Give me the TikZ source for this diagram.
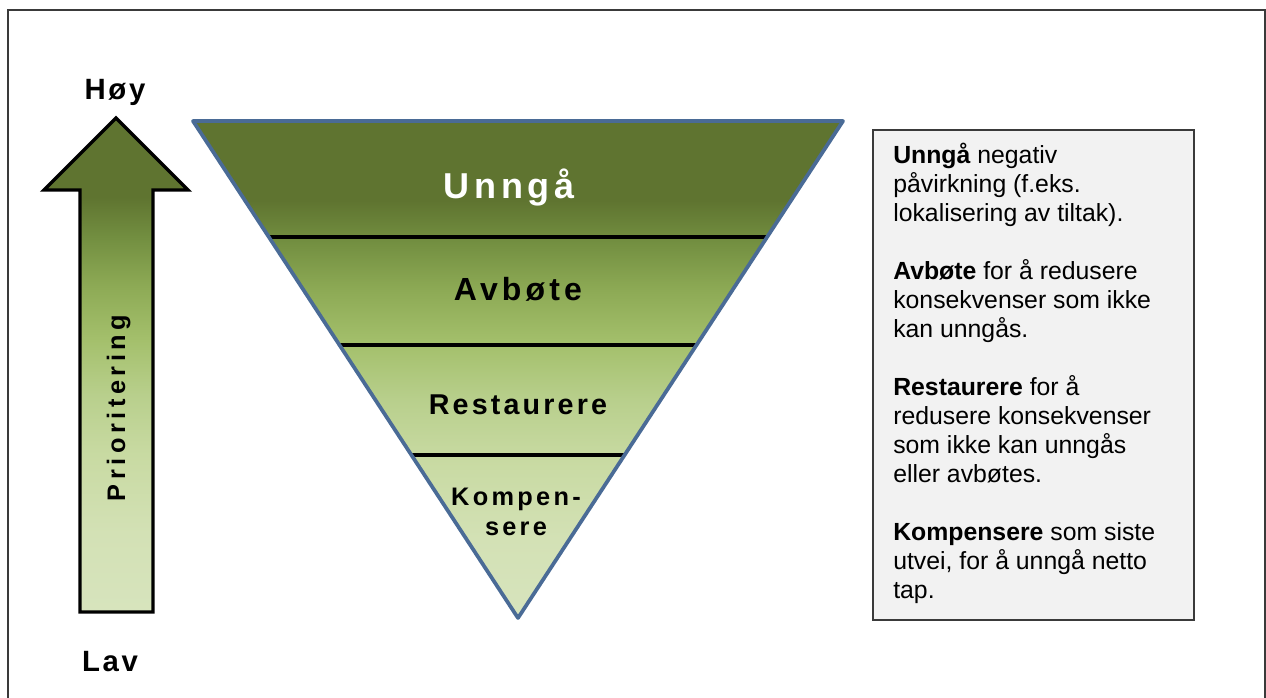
\documentclass[tikz,border=0pt]{standalone}
\usepackage{fontspec}
\setmainfont{Liberation Sans}
\usepackage{xcolor}
\usepackage{tikz}

\definecolor{oliveA}{HTML}{D7E4BD}
\definecolor{oliveB}{HTML}{D3E1B5}
\definecolor{oliveC}{HTML}{C8DAA2}
\definecolor{oliveD}{HTML}{B8CF8C}
\definecolor{oliveE}{HTML}{A4C06C}
\definecolor{oliveF}{HTML}{8DAA55}
\definecolor{oliveG}{HTML}{728E40}
\definecolor{oliveH}{HTML}{5F7430}
\definecolor{edgeblue}{HTML}{4A6B96}
\definecolor{boxgray}{HTML}{F2F2F2}
\definecolor{framegray}{HTML}{3A3A3A}

\pgfdeclareverticalshading{olivefade}{100bp}{color(0bp)=(oliveA); color(25bp)=(oliveA);
  color(33bp)=(oliveB); color(41bp)=(oliveC); color(47bp)=(oliveD); color(52.5bp)=(oliveE);
  color(58bp)=(oliveF); color(63bp)=(oliveG); color(67bp)=(oliveH); color(100bp)=(oliveH)}

\begin{document}
\begin{tikzpicture}[x=0.75pt,y=0.75pt,yscale=-1,xscale=1,
  endlabel/.style={anchor=base,inner sep=0.75pt,font=\bfseries\fontsize{22}{26}\selectfont\addfontfeature{LetterSpace=9}},
  steplabel/.style n args={2}{anchor=base,inner sep=0.75pt,font=\bfseries\fontsize{#1}{#1}\selectfont\addfontfeature{LetterSpace=#2}},
  stepline/.style={line width=3pt,black}]

\useasboundingbox (0,0) rectangle (1266,697);

% frame
\draw[framegray,line width=1.5pt] (8,710) -- (8,10) -- (1265,10) -- (1265,710) ;

% priority arrow
\draw[shading=olivefade,line width=2.6pt,line join=miter] (116,118) -- (188,190) -- (153,190) -- (153,612) -- (80,612) -- (80,190) -- (44,190) -- cycle ;
\node[endlabel] (hoy) at (115,99) {Høy};
\node[endlabel] (lav) at (110,671) {Lav};
\node[steplabel={19}{18},rotate=90] (prio) at (125,408) {Prioritering};

% inverted pyramid
\shade[shading=olivefade] (193,121) -- (843,121) -- (518,618) -- cycle ;
\draw[stepline] (268.9,237) -- (767.1,237) ;
\draw[stepline] (339.5,345) -- (696.5,345) ;
\draw[stepline] (411.4,455) -- (624.6,455) ;
\draw[edgeblue,line width=2.8pt,line join=round] (193,121) -- (843,121) -- (518,618) -- cycle ;

\node[steplabel={27}{13},text=white] (unnga) at (509,198) {Unngå};
\node[steplabel={24}{13}] (avbote) at (518,300) {Avbøte};
\node[steplabel={21.5}{11}] (restaurere) at (518,414) {Restaurere};
\node[steplabel={19}{13}] (kompen) at (516,505) {Kompen-};
\node[steplabel={19}{13}] (sere) at (516,535) {sere};

% explanation box
\draw[framegray,fill=boxgray,line width=1.1pt] (873,130) rectangle (1194,620) ;
\node[anchor=north west,inner sep=0pt,align=left,font=\fontsize{18.6}{21.75}\selectfont] (desc) at (893,143)
  {\textbf{Unngå} negativ\\ påvirkning (f.eks.\\ lokalisering av tiltak).\\[21.75pt]
   \textbf{Avbøte} for å redusere\\ konsekvenser som ikke\\ kan unngås.\\[21.75pt]
   \textbf{Restaurere} for å\\ redusere konsekvenser\\ som ikke kan unngås\\ eller avbøtes.\\[21.75pt]
   \textbf{Kompensere} som siste\\ utvei, for å unngå netto\\ tap.};
\end{tikzpicture}
\end{document}
